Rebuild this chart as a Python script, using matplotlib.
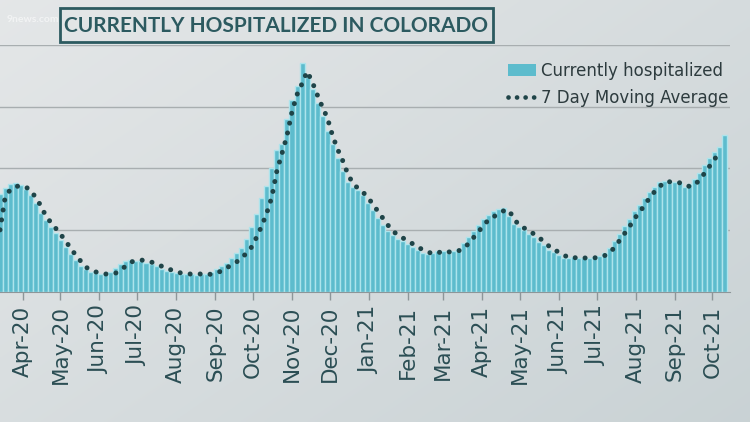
import numpy as np
import pandas as pd
import matplotlib
matplotlib.use("Agg")
import matplotlib.pyplot as plt
import matplotlib.dates as mdates
from matplotlib.patches import Patch, Rectangle
from matplotlib.lines import Line2D

# --- data: patients currently hospitalized, one bar every 4 days from 2020-03-14 ---
start_date = "2020-03-14"
step_days = 4

hospitalized = [
    790, 840, 870, 880, 865, 835, 780, 720, 640, 580,
    525, 475, 420, 360, 305, 255, 205, 180, 160, 150,
    140, 145, 160, 190, 225, 250, 255, 250, 245, 235,
    220, 205, 185, 170, 155, 150, 140, 140, 145, 135,
    140, 145, 160, 185, 210, 235, 270, 310, 355, 430,
    520, 625, 760, 860, 1000, 1150, 1200, 1400, 1550, 1670,
    1850, 1740, 1640, 1530, 1420, 1300, 1200, 1080, 980, 890,
    850, 820, 780, 720, 660, 600, 540, 490, 460, 430,
    410, 385, 360, 335, 315, 305, 310, 325, 330, 315,
    325, 345, 390, 440, 490, 540, 590, 620, 650, 670,
    675, 610, 550, 520, 500, 470, 445, 405, 375, 340,
    320, 295, 275, 270, 280, 270, 275, 270, 280, 290,
    315, 355, 410, 470, 530, 590, 650, 700, 760, 810,
    850, 890, 895, 880, 885, 880, 850, 870, 910, 960,
    1030, 1080, 1130, 1170, 1270,
]

# 7 day moving average, same dates
moving_avg = [
    500, 760, 825, 850, 858, 850, 825, 768, 703, 622,
    565, 516, 467, 411, 354, 297, 248, 199, 175, 159,
    150, 142, 142, 150, 175, 207, 240, 248, 256, 248,
    240, 224, 207, 191, 175, 159, 150, 142, 142, 142,
    142, 134, 142, 150, 167, 191, 215, 240, 272, 313,
    362, 443, 533, 638, 768, 980, 1118, 1264, 1459, 1598,
    1687, 1785, 1703, 1598, 1500, 1411, 1272, 1159, 1069, 963,
    882, 841, 809, 768, 711, 654, 598, 541, 492, 459,
    435, 411, 386, 362, 337, 321, 305, 313, 329, 321,
    321, 329, 346, 386, 435, 484, 533, 581, 606, 630,
    654, 663, 598, 541, 516, 500, 467, 443, 402, 370,
    337, 321, 297, 272, 272, 280, 272, 272, 272, 280,
    289, 313, 354, 411, 467, 524, 589, 646, 695, 760,
    809, 850, 890, 890, 882, 882, 874, 850, 866, 907,
    963, 1020, 1077, 1134,
]

dates = pd.date_range(start_date, periods=len(hospitalized), freq=f"{step_days}D")
avg_dates = dates[:len(moving_avg)]

month_ticks = pd.date_range("2020-04-01", "2021-10-01", freq="MS")

bar_color = "#5dbccd"
stripe_color = "#ade4ec"
dot_color = "#1f4448"
text_color = "#2b4e54"

fig = plt.figure(figsize=(7.5, 4.22), dpi=100)

# soft grey studio background
bg = fig.add_axes([0, 0, 1, 1], zorder=-10)
yy, xx = np.mgrid[0:1:200j, 0:1:300j]
g = 0.55 * xx + 0.45 * yy
top = np.array([0.895, 0.905, 0.91])
bot = np.array([0.79, 0.825, 0.835])
img = top[None, None, :] * (1 - g[..., None]) + bot[None, None, :] * g[..., None]
bg.imshow(img, aspect="auto", extent=[0, 1, 0, 1], origin="upper")
bg.axis("off")

ax = fig.add_axes([0, 1 - 291.5 / 422, 730 / 750, (291.5 - 45) / 422])
ax.set_facecolor("none")

ax.bar(dates, hospitalized, width=step_days, color=bar_color,
       edgecolor=stripe_color, linewidth=1.0, zorder=2)
ax.plot(avg_dates, moving_avg, color=dot_color, lw=3.6,
        linestyle=(0, (0.01, 2.0)), dash_capstyle="round", zorder=3)

ax.set_ylim(0, 2000)
ax.set_yticks([500, 1000, 1500, 2000])
ax.yaxis.grid(True, color="#a8aeb0", lw=1.0, zorder=0)
ax.tick_params(axis="y", length=0, labelleft=False)

ax.set_xlim(pd.Timestamp("2020-03-14"), pd.Timestamp("2021-10-15"))
ax.set_xticks(month_ticks)
ax.xaxis.set_major_formatter(mdates.DateFormatter("%b-%y"))
ax.tick_params(axis="x", length=6, width=1, color="#8d9699", pad=4,
               labelsize=15.5, labelcolor=text_color, labelrotation=90)

for s in ["left", "top", "right"]:
    ax.spines[s].set_visible(False)
ax.spines["bottom"].set_color("#8d9699")

# legend
handles = [
    Patch(facecolor=bar_color, edgecolor="none", label="Currently hospitalized"),
    Line2D([], [], color=dot_color, lw=3.4, linestyle=(0, (0.01, 1.8)),
           dash_capstyle="round", label="7 Day Moving Average"),
]
leg = fig.legend(handles=handles, loc="upper left",
                 bbox_to_anchor=(501 / 750, 1 - 55 / 422),
                 frameon=False, fontsize=12, handlelength=1.7,
                 handletextpad=0.3, labelspacing=0.55, borderaxespad=0)
for t in leg.get_texts():
    t.set_color("#2d3b3e")

# title box
fig.text(7 / 750, 1 - 20 / 422, "9news.com", color="white", alpha=0.55,
         fontsize=7.5, family="Lato", fontweight="bold", va="center", ha="left")
fig.patches.append(Rectangle((60 / 750, 1 - 42 / 422), 433 / 750, 34 / 422,
                             transform=fig.transFigure, fill=False,
                             ec="#2c5a60", lw=2))
fig.text(276.5 / 750, 1 - 25.5 / 422, "CURRENTLY HOSPITALIZED IN COLORADO",
         color="#2c5a60", fontsize=15, family="Lato", fontweight="bold",
         ha="center", va="center")

fig.savefig("out.png", dpi=100)
